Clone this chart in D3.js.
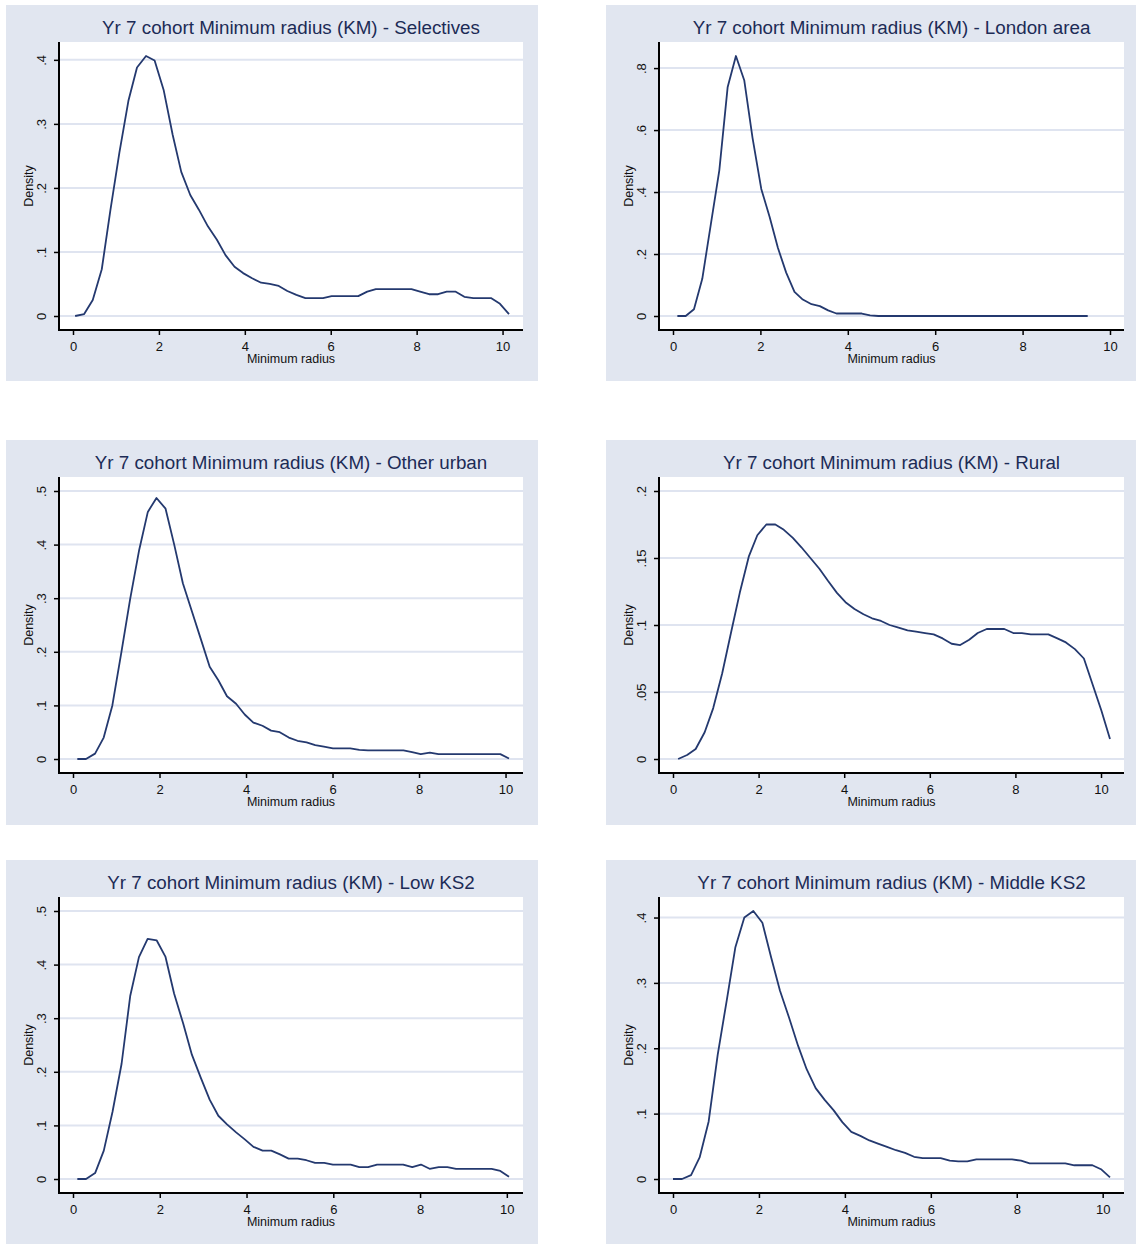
<!DOCTYPE html>
<html lang="en">
<head>
<meta charset="UTF-8">
<title>Yr 7 cohort Minimum radius (KM)</title>
<script src="https://d3js.org/d3.v7.min.js"></script>
<style>
  body { margin: 0; background: #fff; }
  text { font-family: "Liberation Sans", Arial, sans-serif; }
</style>
</head>
<body>
<script>
// kdensity points, 50 per panel
var selX = [0.05, 0.26, 0.46, 0.67, 0.87, 1.08, 1.29, 1.49, 1.70, 1.90, 2.11, 2.32, 2.52, 2.73, 2.93, 3.14, 3.35, 3.55, 3.76, 3.96,
            4.17, 4.38, 4.58, 4.79, 4.99, 5.20, 5.41, 5.61, 5.82, 6.02, 6.23, 6.44, 6.64, 6.85, 7.05, 7.26, 7.47, 7.67, 7.88, 8.08,
            8.29, 8.50, 8.70, 8.91, 9.11, 9.32, 9.53, 9.73, 9.94, 10.15];
var selY = [0.000, 0.003, 0.025, 0.073, 0.165, 0.255, 0.336, 0.388, 0.406, 0.399, 0.353, 0.283, 0.225, 0.189, 0.166, 0.140, 0.119, 0.095, 0.077, 0.067,
            0.059, 0.052, 0.050, 0.047, 0.039, 0.033, 0.028, 0.028, 0.028, 0.031, 0.031, 0.031, 0.031, 0.038, 0.042, 0.042, 0.042, 0.042, 0.042, 0.038,
            0.034, 0.034, 0.038, 0.038, 0.030, 0.028, 0.028, 0.028, 0.019, 0.003];

var lonX = [0.10, 0.29, 0.48, 0.67, 0.87, 1.06, 1.25, 1.44, 1.63, 1.82, 2.02, 2.21, 2.40, 2.59, 2.78, 2.97, 3.17, 3.36, 3.55, 3.74,
            3.93, 4.12, 4.32, 4.51, 4.70, 4.89, 5.08, 5.27, 5.46, 5.66, 5.85, 6.04, 6.23, 6.42, 6.61, 6.81, 7.00, 7.19, 7.38, 7.57,
            7.76, 7.96, 8.15, 8.34, 8.53, 8.72, 8.91, 9.11, 9.30, 9.49];
var lonY = [0.000, 0.000, 0.022, 0.120, 0.300, 0.470, 0.738, 0.839, 0.761, 0.575, 0.410, 0.320, 0.220, 0.140, 0.078, 0.053, 0.038, 0.032, 0.018, 0.008,
            0.008, 0.008, 0.008, 0.002, 0.000, 0.000, 0.000, 0.000, 0.000, 0.000, 0.000, 0.000, 0.000, 0.000, 0.000, 0.000, 0.000, 0.000, 0.000, 0.000,
            0.000, 0.000, 0.000, 0.000, 0.000, 0.000, 0.000, 0.000, 0.000, 0.000];

var urbX = [0.10, 0.30, 0.51, 0.71, 0.91, 1.12, 1.32, 1.53, 1.73, 1.93, 2.14, 2.34, 2.54, 2.75, 2.95, 3.16, 3.36, 3.56, 3.77, 3.97,
            4.17, 4.38, 4.58, 4.78, 4.99, 5.19, 5.40, 5.60, 5.80, 6.01, 6.21, 6.41, 6.62, 6.82, 7.03, 7.23, 7.43, 7.64, 7.84, 8.04,
            8.25, 8.45, 8.65, 8.86, 9.06, 9.27, 9.47, 9.67, 9.88, 10.08];
var urbY = [0.000, 0.000, 0.010, 0.040, 0.100, 0.200, 0.298, 0.390, 0.461, 0.487, 0.467, 0.400, 0.328, 0.275, 0.225, 0.172, 0.147, 0.117, 0.103, 0.083,
            0.068, 0.062, 0.053, 0.050, 0.040, 0.034, 0.031, 0.026, 0.023, 0.020, 0.020, 0.020, 0.017, 0.016, 0.016, 0.016, 0.016, 0.016, 0.013, 0.009,
            0.012, 0.009, 0.009, 0.009, 0.009, 0.009, 0.009, 0.009, 0.009, 0.001];

var rurX = [0.12, 0.33, 0.53, 0.74, 0.94, 1.15, 1.36, 1.56, 1.77, 1.97, 2.18, 2.39, 2.59, 2.80, 3.00, 3.21, 3.42, 3.62, 3.83, 4.03,
            4.24, 4.45, 4.65, 4.86, 5.06, 5.27, 5.48, 5.68, 5.89, 6.09, 6.30, 6.51, 6.71, 6.92, 7.12, 7.33, 7.54, 7.74, 7.95, 8.15,
            8.36, 8.57, 8.77, 8.98, 9.18, 9.39, 9.60, 9.80, 10.01, 10.21];
var rurY = [0.000, 0.003, 0.0075, 0.020, 0.038, 0.064, 0.095, 0.124, 0.151, 0.167, 0.175, 0.175, 0.171, 0.165, 0.158, 0.150, 0.142, 0.133, 0.124, 0.117,
            0.112, 0.108, 0.105, 0.103, 0.100, 0.098, 0.096, 0.095, 0.094, 0.093, 0.090, 0.086, 0.085, 0.089, 0.094, 0.097, 0.097, 0.097, 0.094, 0.094,
            0.093, 0.093, 0.093, 0.090, 0.087, 0.082, 0.075, 0.056, 0.036, 0.015];

var lowX = [0.10, 0.30, 0.51, 0.71, 0.91, 1.12, 1.32, 1.52, 1.72, 1.93, 2.13, 2.33, 2.54, 2.74, 2.94, 3.15, 3.35, 3.55, 3.76, 3.96,
            4.16, 4.37, 4.57, 4.77, 4.97, 5.18, 5.38, 5.58, 5.79, 5.99, 6.19, 6.40, 6.60, 6.80, 7.01, 7.21, 7.41, 7.61, 7.82, 8.02,
            8.22, 8.43, 8.63, 8.83, 9.04, 9.24, 9.44, 9.65, 9.85, 10.05];
var lowY = [0.000, 0.000, 0.011, 0.053, 0.125, 0.215, 0.342, 0.414, 0.448, 0.445, 0.415, 0.346, 0.290, 0.232, 0.190, 0.148, 0.118, 0.102, 0.087, 0.074,
            0.060, 0.053, 0.053, 0.046, 0.038, 0.038, 0.035, 0.030, 0.030, 0.027, 0.027, 0.027, 0.022, 0.022, 0.027, 0.027, 0.027, 0.027, 0.022, 0.027,
            0.019, 0.022, 0.022, 0.019, 0.019, 0.019, 0.019, 0.019, 0.015, 0.004];

var midX = [0.00, 0.21, 0.42, 0.62, 0.83, 1.04, 1.25, 1.45, 1.66, 1.87, 2.08, 2.28, 2.49, 2.70, 2.91, 3.11, 3.32, 3.53, 3.74, 3.94,
            4.15, 4.36, 4.57, 4.77, 4.98, 5.19, 5.40, 5.61, 5.81, 6.02, 6.23, 6.44, 6.64, 6.85, 7.06, 7.27, 7.47, 7.68, 7.89, 8.10,
            8.30, 8.51, 8.72, 8.93, 9.13, 9.34, 9.55, 9.76, 9.96, 10.17];
var midY = [0.000, 0.000, 0.006, 0.033, 0.088, 0.190, 0.273, 0.354, 0.400, 0.410, 0.392, 0.340, 0.288, 0.247, 0.204, 0.168, 0.139, 0.121, 0.105, 0.087,
            0.072, 0.066, 0.059, 0.054, 0.049, 0.044, 0.040, 0.034, 0.032, 0.032, 0.032, 0.028, 0.027, 0.027, 0.030, 0.030, 0.030, 0.030, 0.030, 0.028,
            0.024, 0.024, 0.024, 0.024, 0.024, 0.021, 0.021, 0.021, 0.015, 0.0025];

var groups = ["Selectives", "London area", "Other urban", "Rural", "Low KS2", "Middle KS2"];
var xTicks = [0, 2, 4, 6, 8, 10];
var yTicks = [[0, .1, .2, .3, .4], [0, .2, .4, .6, .8], [0, .1, .2, .3, .4, .5],
              [0, .05, .1, .15, .2], [0, .1, .2, .3, .4, .5], [0, .1, .2, .3, .4]];
var seriesX = [selX, lonX, urbX, rurX, lowX, midX];
var seriesY = [selY, lonY, urbY, rurY, lowY, midY];

// page layout (two columns, three rows of separate graphs)
var cols = [{outL: 6, outR: 538, left: 59, right: 523},
            {outL: 606, outR: 1136, left: 659, right: 1124}];
var rows = [{outT: 5, outB: 381, top: 42, axis: 330},
            {outT: 440, outB: 825, top: 477, axis: 773},
            {outT: 860, outB: 1250, top: 897, axis: 1193}];

var bg = "#e1e6f0", gridCol = "#dfe4f0", lineCol = "#24396f", titleCol = "#1c2b56";

var svg = d3.select("body").append("svg")
  .attr("width", 1136)
  .attr("height", 1244);

function fmt(d) {
  if (d === 0) return "0";
  return String(d).replace(/^0/, "");
}

function drawPanel(k) {
  var c = cols[k % 2], r = rows[Math.floor(k / 2)];
  var xs = seriesX[k], ys = seriesY[k], yt = yTicks[k];
  var g = svg.append("g");

  g.append("rect")
    .attr("x", c.outL).attr("y", r.outT)
    .attr("width", c.outR - c.outL).attr("height", r.outB - r.outT)
    .attr("fill", bg);
  g.append("rect")
    .attr("x", c.left).attr("y", r.top)
    .attr("width", c.right - c.left).attr("height", r.axis - r.top)
    .attr("fill", "#fff");

  var x = d3.scaleLinear()
    .domain([Math.min(0, d3.min(xs)), Math.max(10, d3.max(xs))])
    .range([c.left + 14, c.right - 14]);
  var y = d3.scaleLinear()
    .domain([0, Math.max(d3.max(yt), d3.max(ys))])
    .range([r.axis - 14, r.top + 14]);

  // gridlines
  g.selectAll(".grid").data(yt).enter().append("line")
    .attr("x1", c.left).attr("x2", c.right)
    .attr("y1", function(d) { return y(d); })
    .attr("y2", function(d) { return y(d); })
    .attr("stroke", gridCol)
    .attr("stroke-width", 2);

  // density line
  var pts = xs.map(function(v, i) { return [v, ys[i]]; });
  g.append("path")
    .datum(pts)
    .attr("d", d3.line().x(function(d) { return x(d[0]); }).y(function(d) { return y(d[1]); }))
    .attr("fill", "none")
    .attr("stroke", lineCol)
    .attr("stroke-width", 1.8)
    .attr("stroke-linejoin", "round");

  // axes
  var yAxis = d3.axisLeft(y).tickValues(yt).tickSize(5).tickSizeOuter(0).tickFormat(fmt);
  var ya = g.append("g")
    .attr("transform", "translate(" + c.left + ",0)")
    .call(yAxis);
  ya.select(".domain").remove();
  ya.selectAll(".tick line").attr("stroke", "#000").attr("stroke-width", 1.5);
  ya.selectAll(".tick text")
    .attr("x", null).attr("dy", null)
    .attr("transform", "translate(-13,0) rotate(-90)")
    .attr("text-anchor", "middle")
    .attr("font-size", "13px")
    .attr("font-family", null)
    .attr("fill", "#111");

  var xAxis = d3.axisBottom(x).tickValues(xTicks).tickSize(5).tickSizeOuter(0);
  var xa = g.append("g")
    .attr("transform", "translate(0," + r.axis + ")")
    .call(xAxis);
  xa.select(".domain").remove();
  xa.selectAll(".tick line").attr("stroke", "#000").attr("stroke-width", 1.5);
  xa.selectAll(".tick text")
    .attr("y", 21).attr("dy", null)
    .attr("font-size", "13px")
    .attr("font-family", null)
    .attr("fill", "#111");

  g.append("line")
    .attr("x1", c.left).attr("x2", c.left)
    .attr("y1", r.top).attr("y2", r.axis + 1)
    .attr("stroke", "#000").attr("stroke-width", 2);
  g.append("line")
    .attr("x1", c.left - 1).attr("x2", c.right)
    .attr("y1", r.axis).attr("y2", r.axis)
    .attr("stroke", "#000").attr("stroke-width", 2);

  var cx = (c.left + c.right) / 2, cy = (r.top + r.axis) / 2;
  g.append("text")
    .attr("x", cx).attr("y", r.axis + 33)
    .attr("text-anchor", "middle")
    .attr("font-size", "12.5px")
    .attr("fill", "#111")
    .text("Minimum radius");
  g.append("text")
    .attr("transform", "translate(" + (c.left - 26) + "," + cy + ") rotate(-90)")
    .attr("text-anchor", "middle")
    .attr("font-size", "12.5px")
    .attr("fill", "#111")
    .text("Density");
  g.append("text")
    .attr("x", cx).attr("y", r.top - 8)
    .attr("text-anchor", "middle")
    .attr("font-size", "18.8px")
    .attr("fill", titleCol)
    .text("Yr 7 cohort Minimum radius (KM) - " + groups[k]);
}

for (var k = 0; k < groups.length; k++) drawPanel(k);
</script>
</body>
</html>
